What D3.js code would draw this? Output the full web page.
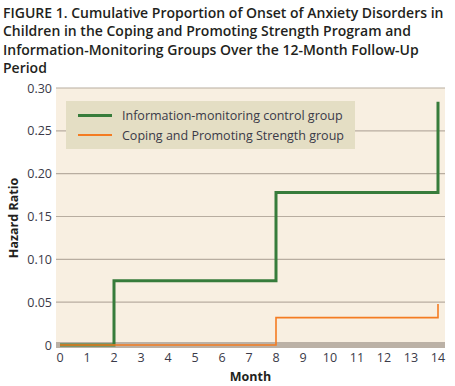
<!DOCTYPE html>
<html>
<head>
<meta charset="utf-8">
<script src="https://cdn.jsdelivr.net/npm/d3@7"></script>
<style>
  body { margin: 0; background: #fff; }
  svg { display: block; font-family: "Open Sans", sans-serif; }
</style>
</head>
<body>
<svg id="chart" width="455" height="386"></svg>
<script>
// months where the step changes, and the cumulative proportion from there on
var controlMonths = [0, 2, 8, 14];
var controlValues = [0, 0.075, 0.178, 0.284];
var copingMonths = [0, 8, 14];
var copingValues = [0, 0.032, 0.048];

var xTicks = d3.range(0, 15);
var yTicks = [0, 0.05, 0.10, 0.15, 0.20, 0.25, 0.30];

var seriesNames = ["Information-monitoring control group", "Coping and Promoting Strength group"];
var titleLines = [
  "FIGURE 1.  Cumulative Proportion of Onset of Anxiety Disorders in",
  "Children in the Coping and Promoting Strength Program and",
  "Information-Monitoring Groups Over the 12-Month Follow-Up",
  "Period"
];

var svg = d3.select("#chart");
var plot = { left: 56, right: 445, top: 88, bottom: 348 };

var x = d3.scaleLinear().domain([0, 14]).range([60, 438]);
var y = d3.scaleLinear().domain([0, 0.30]).range([345, 88]);

// title
svg.append("g").selectAll("text")
    .data(titleLines)
  .enter().append("text")
    .attr("x", 3)
    .attr("y", function(d, i) { return 18 + i * 18.3; })
    .attr("font-size", 14)
    .attr("font-weight", 600)
    .attr("fill", "#231f20")
    .text(function(d) { return d; });

// plot background
svg.append("rect")
    .attr("x", plot.left).attr("y", plot.top)
    .attr("width", plot.right - plot.left).attr("height", plot.bottom - plot.top)
    .attr("fill", "#f8efe1");

// grey band along the floor
svg.append("rect")
    .attr("x", plot.left).attr("y", 342)
    .attr("width", plot.right - plot.left).attr("height", plot.bottom - 342)
    .attr("fill", "#bbb1a6");

// gridlines
svg.append("g").selectAll("line")
    .data(yTicks.filter(function(d) { return d > 0; }))
  .enter().append("line")
    .attr("x1", plot.left).attr("x2", plot.right)
    .attr("y1", function(d) { return y(d); })
    .attr("y2", function(d) { return y(d); })
    .attr("stroke", "#b8ada0")
    .attr("stroke-width", 1.2);

// y tick labels
svg.append("g").selectAll("text")
    .data(yTicks)
  .enter().append("text")
    .attr("x", 52)
    .attr("y", function(d) { return y(d) + 4.5; })
    .attr("text-anchor", "end")
    .attr("font-size", 12.5)
    .attr("fill", "#3a3a48")
    .text(function(d) { return d === 0 ? "0" : d3.format(".2f")(d); });

// x tick labels
svg.append("g").selectAll("text")
    .data(xTicks)
  .enter().append("text")
    .attr("x", function(d) { return x(d); })
    .attr("y", 362)
    .attr("text-anchor", "middle")
    .attr("font-size", 12.5)
    .attr("fill", "#3a3a48")
    .text(function(d) { return d; });

// axis titles
svg.append("text")
    .attr("x", (plot.left + plot.right) / 2)
    .attr("y", 381)
    .attr("text-anchor", "middle")
    .attr("font-size", 12.5)
    .attr("font-weight", 700)
    .attr("fill", "#231f20")
    .text("Month");

svg.append("text")
    .attr("transform", "translate(18," + ((plot.top + plot.bottom) / 2) + ") rotate(-90)")
    .attr("text-anchor", "middle")
    .attr("font-size", 12.5)
    .attr("font-weight", 700)
    .attr("fill", "#231f20")
    .text("Hazard Ratio");

// step lines
var step = d3.line()
    .x(function(d) { return x(d[0]); })
    .y(function(d) { return y(d[1]); })
    .curve(d3.curveStepAfter);

svg.append("path")
    .datum(d3.zip(controlMonths, controlValues))
    .attr("d", step)
    .attr("fill", "none")
    .attr("stroke", "#377c3b")
    .attr("stroke-width", 3);

svg.append("path")
    .datum(d3.zip(copingMonths, copingValues))
    .attr("d", step)
    .attr("fill", "none")
    .attr("stroke", "#f47c22")
    .attr("stroke-width", 1.6);

// legend
var legend = svg.append("g");
legend.append("rect")
    .attr("x", 66).attr("y", 101)
    .attr("width", 289).attr("height", 48)
    .attr("fill", "#e4dec4");

var legendColors = ["#377c3b", "#f47c22"];
var legendWidths = [3, 2];
var item = legend.selectAll("g")
    .data(seriesNames)
  .enter().append("g")
    .attr("transform", function(d, i) { return "translate(0," + (115.5 + i * 19.5) + ")"; });

item.append("line")
    .attr("x1", 78).attr("x2", 112)
    .attr("stroke", function(d, i) { return legendColors[i]; })
    .attr("stroke-width", function(d, i) { return legendWidths[i]; });

item.append("text")
    .attr("x", 122)
    .attr("y", 4.5)
    .attr("font-size", 12.5)
    .attr("fill", "#3a3a48")
    .text(function(d) { return d; });
</script>
</body>
</html>
